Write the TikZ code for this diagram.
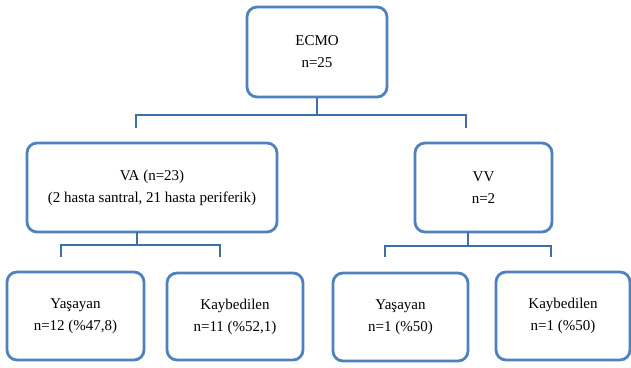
\documentclass[tikz,border=0pt]{standalone}
\usepackage{fontspec}
\setmainfont{Liberation Serif}
\definecolor{boxblue}{HTML}{4F81BD}
\definecolor{lineblue}{HTML}{3D6FA8}
\begin{document}
\begin{tikzpicture}[x=1pt,y=-1pt,
  box/.style={draw=boxblue,line width=2.8pt,rounded corners=10pt,fill=white,
    align=center,inner sep=0pt,font=\fontsize{15}{22}\selectfont},
  conn/.style={draw=lineblue,line width=2.6pt}]
\useasboundingbox (0,0) rectangle (631,367);
\node[box,minimum width=140pt,minimum height=90pt] (ecmo) at (317,52) {ECMO\\n=25};
\node[box,minimum width=250pt,minimum height=89pt] (va) at (152,187.5) {VA (n=23)\\(2 hasta santral, 21 hasta periferik)};
\node[box,minimum width=137pt,minimum height=89pt] (vv) at (483.5,187.5) {VV\\n=2};
\node[box,minimum width=137pt,minimum height=88pt] (y1) at (75.5,316) {Yaşayan\\n=12 (\%47,8)};
\node[box,minimum width=136pt,minimum height=87pt] (k1) at (235,316.5) {Kaybedilen\\n=11 (\%52,1)};
\node[box,minimum width=135pt,minimum height=88pt] (y2) at (400.5,317) {Yaşayan\\n=1 (\%50)};
\node[box,minimum width=134pt,minimum height=88pt] (k2) at (563,316) {Kaybedilen\\n=1 (\%50)};
% junctions
\coordinate (j0) at (ecmo.south |- 0,115);
\coordinate (t1) at (136,128);
\coordinate (t2) at (466,128);
\coordinate (s1) at (137,232);
\coordinate (j1) at (137,245);
\coordinate (b1) at (61,257);
\coordinate (b2) at (220,257);
\coordinate (s2) at (468,232);
\coordinate (j2) at (468,246);
\coordinate (b3) at (385,257);
\coordinate (b4) at (551,257);
\draw[conn] (ecmo.south) -- (j0);
\draw[conn] (t1) |- (j0) -| (t2);
\draw[conn] (s1) -- (j1);
\draw[conn] (b1) |- (j1) -| (b2);
\draw[conn] (s2) -- (j2);
\draw[conn] (b3) |- (j2) -| (b4);
\end{tikzpicture}
\end{document}
